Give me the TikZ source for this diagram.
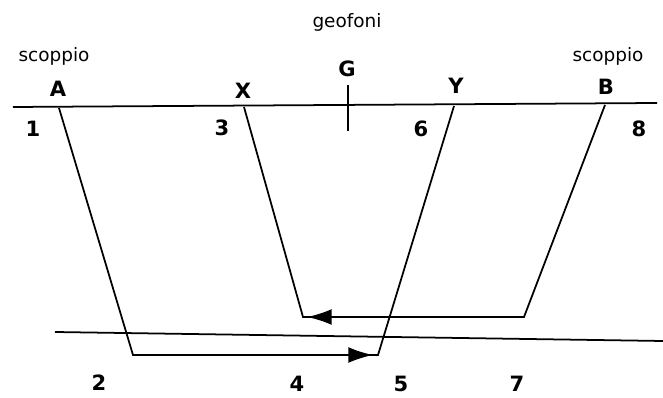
\documentclass[tikz,border=0pt]{standalone}
\usepackage{fontspec}
\setmainfont{DejaVu Sans}
\usetikzlibrary{arrows.meta}

\begin{document}
\begin{tikzpicture}[x=0.02cm, y=-0.02cm, >={Latex[length=14pt,width=9pt]}, line width=1pt,
  word/.style={font=\fontsize{10.5}{12}\selectfont},
  lab/.style={font=\fontsize{12}{14}\selectfont\bfseries}]
\useasboundingbox (0,0) rectangle (663,398);

\node[word] (scA) at (54,56) {scoppio};
\node[word] (scB) at (608,56) {scoppio};
\node[word] (geo) at (347,22) {geofoni};
\node[lab] (a) at (58,89) {A};
\node[lab] (x) at (243,91) {X};
\node[lab] (g) at (347,69) {G};
\node[lab] (y) at (456,86) {Y};
\node[lab] (b) at (606,87) {B};
\node[lab] (n1) at (33,129) {1};
\node[lab] (n3) at (222,128) {3};
\node[lab] (n6) at (421,129) {6};
\node[lab] (n8) at (639,129) {8};
\node[lab] (n2) at (99,383) {2};
\node[lab] (n4) at (297,384) {4};
\node[lab] (n5) at (401,384) {5};
\node[lab] (n7) at (517,384) {7};

\coordinate (s1) at (13,107);
\coordinate (s2) at (657,103);
\coordinate (r1) at (55,332);
\coordinate (r2) at (663,341);
\coordinate (gt) at (348,85);
\coordinate (gb) at (348,131);
\coordinate (pA) at (59,108);
\coordinate (pX) at (244,107);
\coordinate (pY) at (454,106);
\coordinate (pB) at (605,105);
\coordinate (cA) at (133,355);
\coordinate (c5) at (378,355);
\coordinate (c4) at (303,317);
\coordinate (cB) at (524,317);
\coordinate (tA) at (373,355);
\coordinate (tB) at (307,317);

\draw (s1) -- (s2);
\draw (r1) -- (r2);
\draw (gt) -- (gb);
\draw (pA) -- (cA) -- (c5) -- (pY);
\draw (pB) -- (cB) -- (c4) -- (pX);
\draw[->] (cA) -- (tA);
\draw[->] (cB) -- (tB);
\end{tikzpicture}
\end{document}
